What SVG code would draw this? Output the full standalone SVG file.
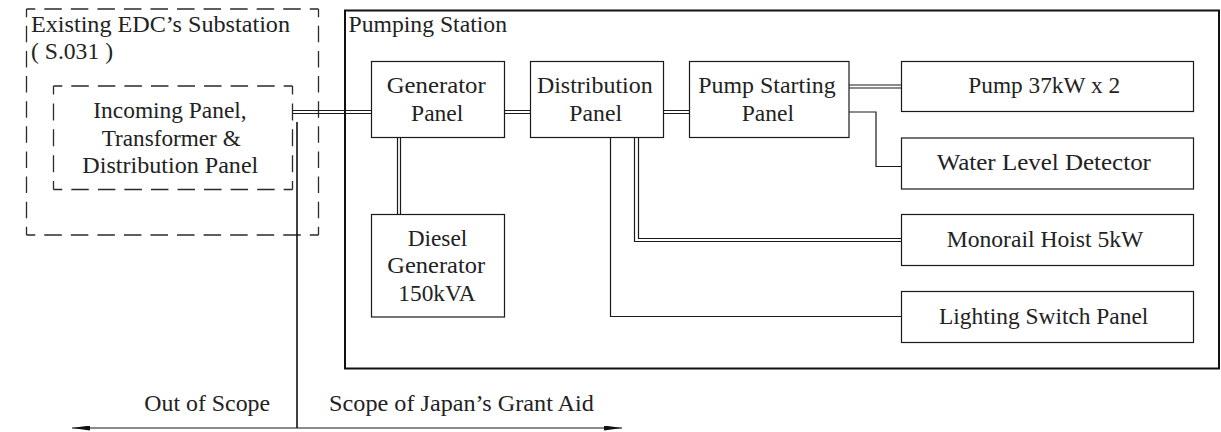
<svg xmlns="http://www.w3.org/2000/svg" width="1221" height="432" viewBox="0 0 1221 432">
<style>
.box{fill:#fff;stroke:#1a1a1a;stroke-width:1.2}
.dh{fill:none;stroke:#2a2a2a;stroke-width:1.3;stroke-dasharray:17.5 9.05;stroke-dashoffset:8.75}
.dvo{fill:none;stroke:#2a2a2a;stroke-width:1.3;stroke-dasharray:16.5 8.61;stroke-dashoffset:8.25}
.dvi{fill:none;stroke:#2a2a2a;stroke-width:1.3;stroke-dasharray:17 8.875;stroke-dashoffset:8.5}
.frame{fill:none;stroke:#111;stroke-width:2}
.ln{fill:none;stroke:#1a1a1a;stroke-width:1.2}
.thick{fill:none;stroke:#111;stroke-width:1.6}
text{font-family:'Liberation Serif','Times New Roman',serif;font-size:24px;fill:#222}
.m{text-anchor:middle}
</style>
<defs>
<marker id="arr" viewBox="0 0 18 5" refX="18" refY="2.5" markerWidth="18" markerHeight="5" markerUnits="userSpaceOnUse" orient="auto-start-reverse">
<path d="M0,0 L18,2.5 L0,5 Z" fill="#111"/>
</marker>
</defs>
<rect width="1221" height="432" fill="#fff"/>

<g id="existing-substation">
<path class="dh" d="M26.5,9 H318.5 M26.5,235 H318.5"/>
<path class="dvo" d="M26.5,9 V235 M318.5,9 V235"/>
<text x="31" y="32.3" textLength="259" lengthAdjust="spacingAndGlyphs">Existing EDC’s Substation</text>
<text x="31" y="59.3" textLength="82" lengthAdjust="spacingAndGlyphs">( S.031 )</text>
</g>

<g id="pumping-station">
<rect class="frame" x="345" y="10.5" width="874" height="358"/>
<text x="348.5" y="32.3" textLength="158.5" lengthAdjust="spacingAndGlyphs">Pumping Station</text>
</g>

<g id="connectors">
<path class="ln" d="M292.5,110.5 H371.5 M292.5,113.5 H371.5"/>
<path class="ln" d="M504.5,110.5 H530.5 M504.5,113.5 H530.5"/>
<path class="ln" d="M663.5,110.5 H689.5 M663.5,113.5 H689.5"/>
<path class="ln" d="M849,85 H901.5 M849,88 H901.5"/>
<path class="ln" d="M849,112 H876 V166.5 H901.5"/>
<path class="ln" d="M397.5,137.5 V214.5 M400.5,137.5 V214.5"/>
<path class="ln" d="M610.5,137.5 V316.5 H901.5"/>
<path class="ln" d="M634.5,137.5 V241.5 H901.5 M638.5,137.5 V238.5 H901.5"/>
<path class="thick" d="M297,122 V428"/>
<path class="ln" d="M72,428 H622" marker-start="url(#arr)" marker-end="url(#arr)"/>
</g>

<g id="incoming-panel">
<path class="dh" d="M53.5,86 H292.5 M53.5,189.5 H292.5"/>
<path class="dvi" d="M53.5,86 V189.5 M292.5,86 V189.5"/>
<text class="m" x="170" y="118.3" textLength="153.4" lengthAdjust="spacingAndGlyphs">Incoming Panel,</text>
<text class="m" x="171.2" y="146" textLength="139" lengthAdjust="spacingAndGlyphs">Transformer &amp;</text>
<text class="m" x="170.3" y="172.7" textLength="176" lengthAdjust="spacingAndGlyphs">Distribution Panel</text>
</g>

<g id="generator-panel">
<rect class="box" x="371.5" y="61.5" width="133" height="76"/>
<text class="m" x="436.2" y="93.3" textLength="99" lengthAdjust="spacingAndGlyphs">Generator</text>
<text class="m" x="437.2" y="121" textLength="52.3" lengthAdjust="spacingAndGlyphs">Panel</text>
</g>

<g id="distribution-panel">
<rect class="box" x="530.5" y="61.5" width="133" height="76"/>
<text class="m" x="594.8" y="93.3" textLength="115.7" lengthAdjust="spacingAndGlyphs">Distribution</text>
<text class="m" x="595.7" y="121" textLength="52.7" lengthAdjust="spacingAndGlyphs">Panel</text>
</g>

<g id="pump-starting-panel">
<rect class="box" x="689.5" y="61.5" width="159.5" height="76"/>
<text class="m" x="767" y="93.3" textLength="137.4" lengthAdjust="spacingAndGlyphs">Pump Starting</text>
<text class="m" x="767.9" y="121" textLength="52.3" lengthAdjust="spacingAndGlyphs">Panel</text>
</g>

<g id="pump">
<rect class="box" x="901.5" y="61.5" width="292" height="50"/>
<text class="m" x="1044.2" y="93.3" textLength="151.7" lengthAdjust="spacingAndGlyphs">Pump 37kW x 2</text>
</g>

<g id="water-level-detector">
<rect class="box" x="901.5" y="138" width="292" height="51"/>
<text class="m" x="1043.8" y="170" textLength="214.3" lengthAdjust="spacingAndGlyphs">Water Level Detector</text>
</g>

<g id="monorail-hoist">
<rect class="box" x="901.5" y="214.5" width="292" height="51"/>
<text class="m" x="1045" y="247.3" textLength="196.6" lengthAdjust="spacingAndGlyphs">Monorail Hoist 5kW</text>
</g>

<g id="lighting-switch-panel">
<rect class="box" x="901.5" y="291.5" width="292" height="51"/>
<text class="m" x="1043.7" y="324.3" textLength="209.3" lengthAdjust="spacingAndGlyphs">Lighting Switch Panel</text>
</g>

<g id="diesel-generator">
<rect class="box" x="371.5" y="214.5" width="133" height="102.5"/>
<text class="m" x="437.5" y="245.7" textLength="59.6" lengthAdjust="spacingAndGlyphs">Diesel</text>
<text class="m" x="436.2" y="273.3" textLength="97.7" lengthAdjust="spacingAndGlyphs">Generator</text>
<text class="m" x="437" y="301" textLength="77.4" lengthAdjust="spacingAndGlyphs">150kVA</text>
</g>

<g id="scope-labels">
<text class="m" x="207.2" y="411" textLength="125.7" lengthAdjust="spacingAndGlyphs">Out of Scope</text>
<text class="m" x="461.5" y="411" textLength="264.8" lengthAdjust="spacingAndGlyphs">Scope of Japan’s Grant Aid</text>
</g>
</svg>
